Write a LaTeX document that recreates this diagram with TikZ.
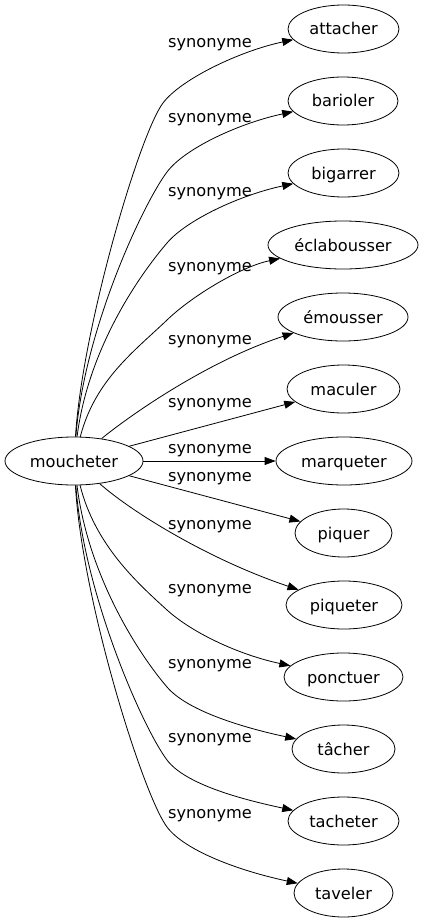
\documentclass[tikz,border=0pt]{standalone}
\usepackage{fontspec}
\setmainfont{DejaVu Sans}
\usetikzlibrary{arrows.meta,shapes.geometric}
\begin{document}
\begin{tikzpicture}[x=1pt,y=-1pt,
  word/.style={draw, ellipse, inner sep=0pt, minimum height=48pt,
    font=\fontsize{16.2}{19}\selectfont, text height=12.5pt, text depth=0.5pt, line width=0.8pt},
  rel/.style={font=\fontsize{16.2}{19}\selectfont, anchor=base, inner sep=0pt},
  link/.style={line width=0.8pt, -{Triangle[length=11pt,width=8pt]}}]
\useasboundingbox (0,0) rectangle (425,923);
\node[word, minimum width=138pt] (moucheter) at (74,461) {moucheter};
\node[word, minimum width=111pt] (attacher) at (343.5,29) {attacher};
\node[word, minimum width=110pt] (barioler) at (343,101) {barioler};
\node[word, minimum width=111pt] (bigarrer) at (343.5,173) {bigarrer};
\node[word, minimum width=150pt] (eclabousser) at (343,245) {éclabousser};
\node[word, minimum width=130pt] (emousser) at (343,317) {émousser};
\node[word, minimum width=113pt] (maculer) at (343.5,389) {maculer};
\node[word, minimum width=136pt] (marqueter) at (344,461) {marqueter};
\node[word, minimum width=97pt] (piquer) at (343.5,533) {piquer};
\node[word, minimum width=116pt] (piqueter) at (344,605) {piqueter};
\node[word, minimum width=119pt] (ponctuer) at (343.5,677) {ponctuer};
\node[word, minimum width=103pt] (tacher) at (343.5,749) {tâcher};
\node[word, minimum width=111pt] (tacheter) at (343.5,821) {tacheter};
\node[word, minimum width=99pt] (taveler) at (343.5,893) {taveler};

\node[rel] (l1) at (210,47.7) {synonyme};
\node[rel] (l2) at (210,122) {synonyme};
\node[rel] (l3) at (210,196) {synonyme};
\node[rel] (l4) at (210,271) {synonyme};
\node[rel] (l5) at (210,344) {synonyme};
\node[rel] (l6) at (210,407) {synonyme};
\node[rel] (l7) at (210,453) {synonyme};
\node[rel] (l8) at (210,481.5) {synonyme};
\node[rel] (l9) at (210,529) {synonyme};
\node[rel] (l10) at (210,593) {synonyme};
\node[rel] (l11) at (210,668) {synonyme};
\node[rel] (l12) at (210,742) {synonyme};
\node[rel] (l13) at (210,818) {synonyme};

\draw[link] (moucheter) .. controls (82,330) and (139,135) .. (163,103) .. controls (181,79) and (240,51) .. (attacher);
\draw[link] (moucheter) .. controls (84,330) and (143,204) .. (167,172) .. controls (185,148) and (240,123) .. (barioler);
\draw[link] (moucheter) .. controls (88,350) and (137.8,277) .. (167,243) .. controls (186.5,220) and (240,195) .. (bigarrer);
\draw[link] (moucheter) .. controls (95,380) and (134.6,351) .. (167,320) .. controls (192,296) and (240,267) .. (eclabousser);
\draw[link] (moucheter) .. controls (133,413) and (210,360) .. (emousser);
\draw[link] (moucheter) -- (maculer);
\draw[link] (moucheter) -- (marqueter);
\draw[link] (moucheter) -- (piquer);
\draw[link] (moucheter) .. controls (133,513) and (210,560) .. (piqueter);
\draw[link] (moucheter) .. controls (95,545) and (137.4,583) .. (167,610) .. controls (193,633.5) and (240,655) .. (ponctuer);
\draw[link] (moucheter) .. controls (88,575) and (137.8,653) .. (167,687) .. controls (186.5,710) and (240,727) .. (tacher);
\draw[link] (moucheter) .. controls (84,595) and (143,728) .. (167,760) .. controls (185,784) and (240,799) .. (tacheter);
\draw[link] (moucheter) .. controls (82,600) and (143,795) .. (167,827) .. controls (185,851) and (240,871) .. (taveler);
\end{tikzpicture}
\end{document}
